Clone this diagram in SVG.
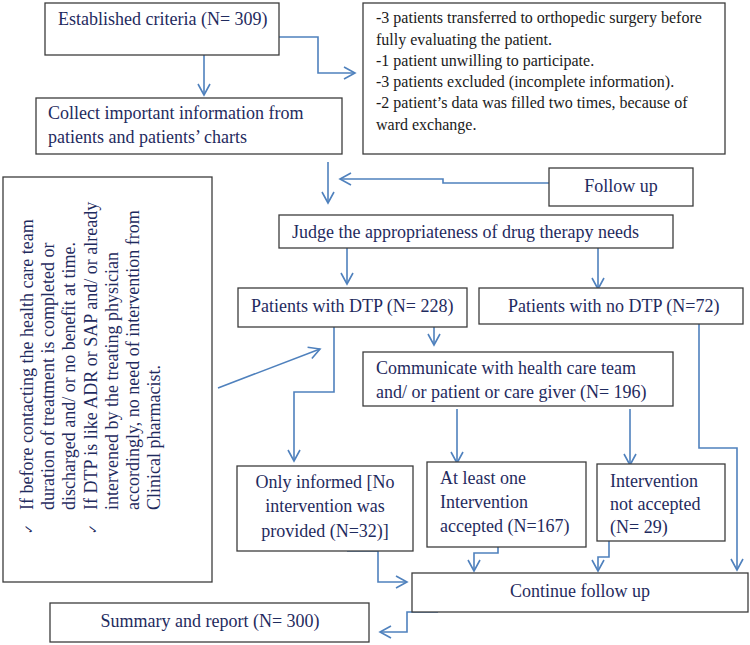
<svg xmlns="http://www.w3.org/2000/svg" width="750" height="645" viewBox="0 0 750 645">
<style>
.box{fill:#fff;stroke:#3c3c3c;stroke-width:1.3}
.t{font-family:"Liberation Serif","Times New Roman",serif;font-size:18px;fill:#1f2b5e}
.tb{font-family:"Liberation Serif","Times New Roman",serif;font-size:16px;fill:#1a1a1a}
.tl{font-family:"Liberation Serif","Times New Roman",serif;font-size:18px;fill:#1f2b5e}
.ck{font-family:"DejaVu Sans",sans-serif;font-size:12px;fill:#1f2b5e}
.c{fill:none;stroke:#4f81bd;stroke-width:1.6}
</style>
<defs>
<marker id="ah" markerUnits="userSpaceOnUse" markerWidth="14" markerHeight="14" refX="12" refY="7" orient="auto">
<path d="M1,1 L12,7 L1,13" fill="none" stroke="#4f81bd" stroke-width="1.6"/>
</marker>
</defs>
<rect width="750" height="645" fill="#fff"/>
<g id="connectors">
<path class="c" d="M204,55 V95" marker-end="url(#ah)"/>
<path class="c" d="M279,37 H318 V73 H355" marker-end="url(#ah)"/>
<path class="c" d="M328,162 V203" marker-end="url(#ah)"/>
<path class="c" d="M549,183 H443 V179 H340" marker-end="url(#ah)"/>
<path class="c" d="M347,248 V284" marker-end="url(#ah)"/>
<path class="c" d="M598,248 V289" marker-end="url(#ah)"/>
<path class="c" d="M434,327 V345" marker-end="url(#ah)"/>
<path class="c" d="M334,327 V392 H294 V461" marker-end="url(#ah)"/>
<path class="c" d="M218,388 L320,349" marker-end="url(#ah)"/>
<path class="c" d="M457,409 V463" marker-end="url(#ah)"/>
<path class="c" d="M630,409 V465" marker-end="url(#ah)"/>
<path class="c" d="M699,324 V448 H737 V570" marker-end="url(#ah)"/>
<path class="c" d="M347,551 H378 V582 H407" marker-end="url(#ah)"/>
<path class="c" d="M498,532 V553 H474 V571" marker-end="url(#ah)"/>
<path class="c" d="M609,541 V557 H598 V571" marker-end="url(#ah)"/>
<path class="c" d="M438,612 H407 V632 H380" marker-end="url(#ah)"/>
</g>
<g id="established">
<rect class="box" x="45" y="3" width="234" height="52"/>
<text class="t" x="58" y="25">Established criteria (N= 309)</text>
</g>
<g id="excluded">
<rect class="box" x="363" y="3" width="362" height="151"/>
<text class="tb" x="376" y="23">-3 patients transferred to orthopedic surgery before</text>
<text class="tb" x="376" y="45">fully evaluating the patient.</text>
<text class="tb" x="376" y="66">-1 patient unwilling to participate.</text>
<text class="tb" x="376" y="87">-3 patients excluded (incomplete information).</text>
<text class="tb" x="376" y="108">-2 patient’s data was filled two times, because of</text>
<text class="tb" x="376" y="130">ward exchange.</text>
</g>
<g id="collect">
<rect class="box" x="36" y="98" width="306" height="56"/>
<text class="t" x="48" y="119">Collect important information from</text>
<text class="t" x="48" y="143">patients and patients’ charts</text>
</g>
<g id="followup">
<rect class="box" x="549" y="168" width="144" height="38"/>
<text class="t" x="621" y="192" text-anchor="middle">Follow up</text>
</g>
<g id="judge">
<rect class="box" x="279" y="215" width="394" height="33"/>
<text class="t" x="292" y="238">Judge the appropriateness of drug therapy needs</text>
</g>
<g id="dtp">
<rect class="box" x="238" y="288" width="229" height="39"/>
<text class="t" x="251" y="312">Patients with DTP (N= 228)</text>
</g>
<g id="nodtp">
<rect class="box" x="479" y="288" width="264" height="36"/>
<text class="t" x="508" y="312">Patients with no DTP (N=72)</text>
</g>
<g id="note">
<rect class="box" x="3" y="177" width="209" height="405"/>
<g transform="translate(0,510) rotate(-90)">
<text class="ck" x="-24" y="33">✓</text>
<text class="tl" x="0" y="33">If before contacting the health care team</text>
<text class="tl" x="0" y="54">duration of treatment is completed or</text>
<text class="tl" x="0" y="75">discharged and/ or no benefit at time.</text>
<text class="ck" x="-24" y="97">✓</text>
<text class="tl" x="0" y="97">If DTP is like ADR or SAP and/ or already</text>
<text class="tl" x="0" y="118">intervened by the treating physician</text>
<text class="tl" x="0" y="139">accordingly, no need of intervention from</text>
<text class="tl" x="0" y="160">Clinical pharmacist.</text>
</g>
</g>
<g id="communicate">
<rect class="box" x="363" y="352" width="310" height="54"/>
<text class="t" x="376" y="374">Communicate with health care team</text>
<text class="t" x="376" y="398">and/ or patient or care giver (N= 196)</text>
</g>
<g id="informed">
<rect class="box" x="237" y="466" width="176" height="85"/>
<text class="t" x="325" y="488" text-anchor="middle">Only informed [No</text>
<text class="t" x="325" y="512" text-anchor="middle">intervention was</text>
<text class="t" x="325" y="537" text-anchor="middle">provided (N=32)]</text>
</g>
<g id="accepted">
<rect class="box" x="427" y="462" width="159" height="85"/>
<text class="t" x="440" y="484">At least one</text>
<text class="t" x="440" y="508">Intervention</text>
<text class="t" x="440" y="532">accepted (N=167)</text>
</g>
<g id="notaccepted">
<rect class="box" x="597" y="464" width="128" height="77"/>
<text class="t" x="610" y="487">Intervention</text>
<text class="t" x="610" y="510">not accepted</text>
<text class="t" x="610" y="533">(N= 29)</text>
</g>
<g id="continue">
<rect class="box" x="412" y="573" width="336" height="39"/>
<text class="t" x="580" y="597" text-anchor="middle">Continue follow up</text>
</g>
<g id="summary">
<rect class="box" x="50" y="603" width="319" height="39"/>
<text class="t" x="210" y="627" text-anchor="middle">Summary and report (N= 300)</text>
</g>
</svg>
